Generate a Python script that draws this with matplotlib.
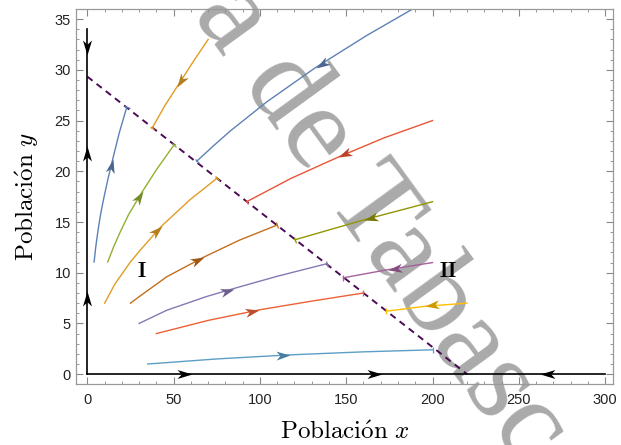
import numpy as np
import matplotlib.pyplot as plt
from matplotlib.colors import to_rgb
from matplotlib.markers import MarkerStyle
from matplotlib.path import Path
from matplotlib.transforms import Affine2D

plt.rcParams['mathtext.fontset'] = 'cm'
plt.rcParams['font.family'] = ['Liberation Sans', 'DejaVu Sans']

# Region I: trayectorias que suben hacia la recta
azul_x = [3.9, 4.9, 6.2, 7.8, 9.7, 12.0, 14.7, 18.5, 22.8]
azul_y = [11.06, 12.6, 14.2, 15.9, 17.5, 19.3, 21.2, 23.8, 26.3]
verde_x = [11.8, 15.1, 19, 23.8, 31.5, 39.8, 50.2]
verde_y = [11.06, 12.5, 14.0, 15.7, 17.9, 20.1, 22.6]
naranja_x = [10, 16, 24.7, 30, 43, 59.5, 75]
naranja_y = [7, 8.9, 11, 12.1, 14.6, 17.2, 19.3]
cafe_x = [25, 30.5, 46, 67, 88, 110]
cafe_y = [7, 7.7, 9.6, 11.5, 13.2, 14.7]
morado_x = [30, 46, 69, 85, 110, 139]
morado_y = [5, 6.3, 7.65, 8.45, 9.65, 10.9]
rojo_x = [40, 70, 100, 130, 160]
rojo_y = [4, 5.3, 6.35, 7.2, 8.0]
celeste_x = [35, 75, 117, 160, 200]
celeste_y = [1, 1.5, 1.9, 2.2, 2.4]

# Region II: trayectorias que bajan hacia la recta
azul2_x = [189, 162, 132, 104, 83, 73, 63.4]
azul2_y = [36.05, 33.4, 30.2, 26.85, 24.0, 22.5, 21.0]
naranja2_x = [70, 61.5, 53, 45, 37.7]
naranja2_y = [33, 30.85, 28.6, 26.5, 24.3]
rojo2_x = [200, 172, 145.4, 118, 92.3]
rojo2_y = [25, 23.3, 21.4, 19.3, 17.0]
oliva_x = [200, 160, 120.3]
oliva_y = [17, 15.2, 13.25]
morado2_x = [200, 174, 148.3]
morado2_y = [11, 10.3, 9.5]
amarillo_x = [220, 196, 173]
amarillo_y = [7, 6.7, 6.2]

# recta de equilibrio y flechas sobre los ejes
recta_x = [0, 220]
recta_y = [29.33, 0]
flechas_y = [31.5, 22.45, 8.15]
sentido_y = [-1, 1, 1]
flechas_x = [60.5, 170.5, 262.3]
sentido_x = [1, 1, -1]

trayectorias = [
    (azul_x, azul_y, '#5E81B5', 0.66),
    (verde_x, verde_y, '#8FB032', 0.59),
    (naranja_x, naranja_y, '#E19C24', 0.57),
    (cafe_x, cafe_y, '#C56E1A', 0.52),
    (morado_x, morado_y, '#8778B3', 0.51),
    (rojo_x, rojo_y, '#EB6235', 0.5),
    (celeste_x, celeste_y, '#5D9EC7', 0.5),
    (azul2_x, azul2_y, '#5E81B5', 0.43),
    (naranja2_x, naranja2_y, '#E19C24', 0.55),
    (rojo2_x, rojo2_y, '#E95536', 0.5),
    (oliva_x, oliva_y, '#929600', 0.5),
    (morado2_x, morado2_y, '#A5609D', 0.5),
    (amarillo_x, amarillo_y, '#FFBF00', 0.52),
]


def punta(ax, x, y, ang, color, largo=14, ancho=9):
    verts = [(0, 0), (-1, 0.5 * ancho / largo), (-0.72, 0), (-1, -0.5 * ancho / largo), (0, 0)]
    codes = [Path.MOVETO, Path.LINETO, Path.LINETO, Path.LINETO, Path.CLOSEPOLY]
    m = MarkerStyle(Path(verts, codes), transform=Affine2D().rotate_deg(ang))
    ax.plot([x], [y], linestyle='none', marker=m, markersize=2 * largo * 0.72,
            color=color, markeredgewidth=0, zorder=4, clip_on=False)


def flecha_en_curva(ax, x, y, frac, color):
    pts = ax.transData.transform(np.column_stack([x, y]))
    seg = np.hypot(*np.diff(pts, axis=0).T)
    acum = np.concatenate([[0], np.cumsum(seg)])
    s = frac * acum[-1]
    i = int(np.clip(np.searchsorted(acum, s) - 1, 0, len(seg) - 1))
    t = (s - acum[i]) / seg[i]
    p = pts[i] + t * (pts[i + 1] - pts[i])
    d = pts[i + 1] - pts[i]
    ang = np.degrees(np.arctan2(d[1], d[0]))
    tip = ax.transData.inverted().transform(p)
    oscuro = tuple(c * 0.8 for c in to_rgb(color))
    punta(ax, tip[0], tip[1], ang, oscuro)
    # pequeña marca perpendicular al final de la curva
    d_fin = pts[-1] - pts[-2]
    ang_fin = np.degrees(np.arctan2(d_fin[1], d_fin[0]))
    m = MarkerStyle('|', transform=Affine2D().rotate_deg(ang_fin))
    ax.plot([x[-1]], [y[-1]], linestyle='none', marker=m, markersize=4,
            markeredgewidth=0.9, color=color, zorder=2)


fig = plt.figure(figsize=(6.21, 4.45), dpi=100)
ax = fig.add_axes([0.1229, 0.1364, 0.8637, 0.8434])
ax.set_xlim(-6.4, 304.4)
ax.set_ylim(-1, 36)

# marca de agua
ax.text(192 / 621, 1 - 14 / 445, 'a de Tabasco', transform=fig.transFigure,
        fontsize=87, family='Liberation Serif', color='#aaaaaa', rotation=-54,
        rotation_mode='anchor', ha='left', va='baseline', zorder=0.5, clip_on=False)

# ejes negros con flechas
ax.plot([0, 0], [0, 34], color='black', lw=1.2, zorder=3)
ax.plot([0, 300], [0, 0], color='black', lw=1.2, zorder=3)
for yy, s in zip(flechas_y, sentido_y):
    punta(ax, 0, yy, 90 * s, 'black', largo=15, ancho=9)
for xx, s in zip(flechas_x, sentido_x):
    punta(ax, xx, 0, 0 if s > 0 else 180, 'black', largo=15, ancho=9)

ax.plot(recta_x, recta_y, color='#4B0A55', lw=1.4, dashes=(3.4, 2.6), zorder=2)

for x, y, color, frac in trayectorias:
    ax.plot(x, y, color=color, lw=1.0, zorder=2)
    flecha_en_curva(ax, x, y, frac, color)

ax.text(31.5, 10.1, r'$\mathbf{I}$', fontsize=15, ha='center', va='center')
ax.text(209, 10.1, r'$\mathbf{II}$', fontsize=15, ha='center', va='center')

ax.set_xticks(np.arange(0, 301, 50))
ax.set_xticks(np.arange(0, 305, 10), minor=True)
ax.set_yticks(np.arange(0, 36, 5))
ax.set_yticks(np.arange(0, 37, 1), minor=True)
ax.tick_params(which='both', direction='in', top=True, right=True,
               color='#888888', labelsize=10.5, labelcolor='#222222')
ax.tick_params(which='major', length=4.8, width=0.8)
ax.tick_params(which='minor', length=2.4, width=0.6)
ax.tick_params(axis='x', pad=6.5)
ax.tick_params(axis='y', pad=4)
for sp in ax.spines.values():
    sp.set_color('#999999')
    sp.set_linewidth(0.9)

ax.set_xlabel(r'$\mathrm{Poblaci\acute{o}n}\ x$', fontsize=18)
ax.set_ylabel(r'$\mathrm{Poblaci\acute{o}n}\ y$', fontsize=18)
ax.xaxis.set_label_coords(0.5, -0.095)
ax.yaxis.set_label_coords(-0.066, 0.5)

fig.savefig('out.png', dpi=100)
